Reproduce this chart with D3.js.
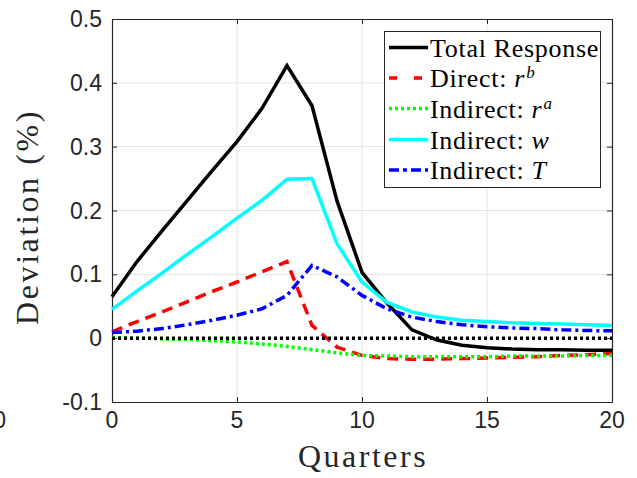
<!DOCTYPE html>
<html>
<head>
<meta charset="utf-8">
<script src="https://cdn.jsdelivr.net/npm/d3@7"></script>
<style>
  html, body { margin: 0; padding: 0; background: #fff; }
  svg { display: block; }
</style>
</head>
<body>
<svg id="chart" width="637" height="478"></svg>
<script>
// ---- data ----
const quarters = d3.range(0, 21);
const totalResponse = [0.065, 0.12, 0.168, 0.215, 0.262, 0.308, 0.36, 0.427, 0.364, 0.215, 0.103, 0.055, 0.013, -0.003, -0.011, -0.015, -0.017, -0.018, -0.018, -0.019, -0.019];
const directRb = [0.01, 0.026, 0.041, 0.057, 0.073, 0.088, 0.104, 0.12, 0.02, -0.014, -0.027, -0.032, -0.033, -0.033, -0.032, -0.031, -0.03, -0.029, -0.027, -0.026, -0.024];
const indirectRa = [0.001, 0.0, -0.001, -0.002, -0.004, -0.006, -0.009, -0.013, -0.018, -0.023, -0.027, -0.028, -0.029, -0.029, -0.029, -0.029, -0.028, -0.028, -0.028, -0.027, -0.027];
const indirectW = [0.045, 0.074, 0.102, 0.131, 0.159, 0.188, 0.216, 0.249, 0.25, 0.148, 0.088, 0.056, 0.041, 0.033, 0.028, 0.026, 0.024, 0.023, 0.022, 0.021, 0.02];
const indirectT = [0.009, 0.011, 0.015, 0.021, 0.028, 0.036, 0.046, 0.067, 0.114, 0.096, 0.067, 0.046, 0.033, 0.026, 0.021, 0.018, 0.016, 0.015, 0.013, 0.012, 0.0115];
const zeroLine = quarters.map(() => 0);
const xTicks = [0, 5, 10, 15, 20];
const yTicks = [-0.1, 0, 0.1, 0.2, 0.3, 0.4, 0.5];
const yTickLabels = ["-0.1", "0", "0.1", "0.2", "0.3", "0.4", "0.5"];

const series = [
  { name: "total", values: totalResponse, color: "#000000", dash: null },
  { name: "rb", values: directRb, color: "#ff0000", dash: "11,7" },
  { name: "ra", values: indirectRa, color: "#00ff00", dash: "3,3" },
  { name: "w", values: indirectW, color: "#00ffff", dash: null },
  { name: "T", values: indirectT, color: "#0000ff", dash: "10,4,3,4" },
  { name: "zero", values: zeroLine, color: "#000000", dash: "3,3", width: 3.5 }
];

// ---- layout ----
const svg = d3.select("#chart");
const L = 112, R = 612, T = 19, B = 402;
const x = d3.scaleLinear().domain([0, 20]).range([L, R]);
const y = d3.scaleLinear().domain([-0.1, 0.5]).range([B, T]);
const axisColor = "#262626";
const sans = "Liberation Sans, Arial, sans-serif";
const serif = "Liberation Serif, serif";

// grid
const g = svg.append("g");
g.selectAll(".gx").data(xTicks.slice(1, -1)).enter().append("line")
  .attr("x1", d => x(d)).attr("x2", d => x(d)).attr("y1", T).attr("y2", B)
  .attr("stroke", "#e3e3e3").attr("stroke-width", 1);
g.selectAll(".gy").data(yTicks.slice(1, -1)).enter().append("line")
  .attr("y1", d => y(d)).attr("y2", d => y(d)).attr("x1", L).attr("x2", R)
  .attr("stroke", "#e3e3e3").attr("stroke-width", 1);

// axes with inward ticks
const tl = 5;
const axB = svg.append("g").attr("transform", `translate(0,${B})`)
  .call(d3.axisBottom(x).tickValues(xTicks).tickSizeInner(-tl).tickSizeOuter(0).tickFormat(""));
const axT = svg.append("g").attr("transform", `translate(0,${T})`)
  .call(d3.axisTop(x).tickValues(xTicks).tickSizeInner(-tl).tickSizeOuter(0).tickFormat(""));
const axL = svg.append("g").attr("transform", `translate(${L},0)`)
  .call(d3.axisLeft(y).tickValues(yTicks).tickSizeInner(-tl).tickSizeOuter(0).tickFormat(""));
const axR = svg.append("g").attr("transform", `translate(${R},0)`)
  .call(d3.axisRight(y).tickValues(yTicks).tickSizeInner(-tl).tickSizeOuter(0).tickFormat(""));
[axB, axT, axL, axR].forEach(a => {
  a.selectAll("path").attr("stroke", axisColor).attr("stroke-width", 1.2);
  a.selectAll("line").attr("stroke", axisColor).attr("stroke-width", 1);
});

// tick labels
svg.append("g").selectAll("text").data(xTicks).enter().append("text")
  .attr("x", d => x(d)).attr("y", 428)
  .attr("text-anchor", "middle").attr("font-family", sans).attr("font-size", 23)
  .attr("fill", axisColor).text(d => d);
svg.append("g").selectAll("text").data(yTicks).enter().append("text")
  .attr("x", 102).attr("y", d => y(d) + 8)
  .attr("text-anchor", "end").attr("font-family", sans).attr("font-size", 23)
  .attr("fill", axisColor).text((d, i) => yTickLabels[i]);
// label of a neighbouring panel, clipped at the left edge as in the reference
svg.append("text").attr("x", 6).attr("y", 428).attr("text-anchor", "end")
  .attr("font-family", sans).attr("font-size", 23).attr("fill", axisColor).text("0");

// axis titles
svg.append("text").attr("x", 363).attr("y", 467).attr("text-anchor", "middle")
  .attr("font-family", serif).attr("font-size", 32).attr("fill", "#262626")
  .attr("letter-spacing", 2.5).text("Quarters");
svg.append("text").attr("transform", "translate(38,217) rotate(-90)")
  .attr("text-anchor", "middle").attr("font-family", serif).attr("font-size", 32)
  .attr("fill", "#262626").attr("letter-spacing", 2.6)
  .text("Deviation (%)");

// lines
const line = d3.line().x((d, i) => x(quarters[i])).y(d => y(d));
const lg = svg.append("g");
series.forEach(s => {
  lg.append("path").datum(s.values)
    .attr("d", line).attr("fill", "none")
    .attr("stroke", s.color).attr("stroke-width", s.width || 3.5)
    .attr("stroke-linejoin", "miter")
    .attr("stroke-dasharray", s.dash);
});

// legend
const leg = svg.append("g");
leg.append("rect").attr("x", 384.5).attr("y", 31.5).attr("width", 216).attr("height", 156)
  .attr("fill", "#fff").attr("stroke", axisColor).attr("stroke-width", 1);
const legendItems = [
  { s: series[0], parts: [["Total Response", "normal", false]] },
  { s: series[1], parts: [["Direct: ", "normal", false], ["r", "italic", false], ["b", "italic", true]] },
  { s: series[2], parts: [["Indirect: ", "normal", false], ["r", "italic", false], ["a", "italic", true]] },
  { s: series[3], parts: [["Indirect: ", "normal", false], ["w", "italic", false]] },
  { s: series[4], parts: [["Indirect: ", "normal", false], ["T", "italic", false]] }
];
const rowY = [47.5, 78, 108.5, 139.5, 170];
legendItems.forEach((it, i) => {
  const yy = rowY[i];
  leg.append("line").attr("x1", 389).attr("x2", 428).attr("y1", yy).attr("y2", yy)
    .attr("stroke", it.s.color).attr("stroke-width", 3.5)
    .attr("stroke-dasharray", it.s.dash === "11,7" ? "8,17" : it.s.dash === "10,4,3,4" ? "10,4,4,4" : it.s.dash);
  const t = leg.append("text").attr("x", 430).attr("y", yy + 9)
    .attr("font-family", serif).attr("font-size", 26).attr("fill", "#000")
    .attr("letter-spacing", 0.7);
  it.parts.forEach(p => {
    const ts = t.append("tspan").attr("font-style", p[1]).text(p[0]);
    if (p[2]) ts.attr("font-size", 17).attr("dy", -9).attr("dx", 1);
  });
});
</script>
</body>
</html>
